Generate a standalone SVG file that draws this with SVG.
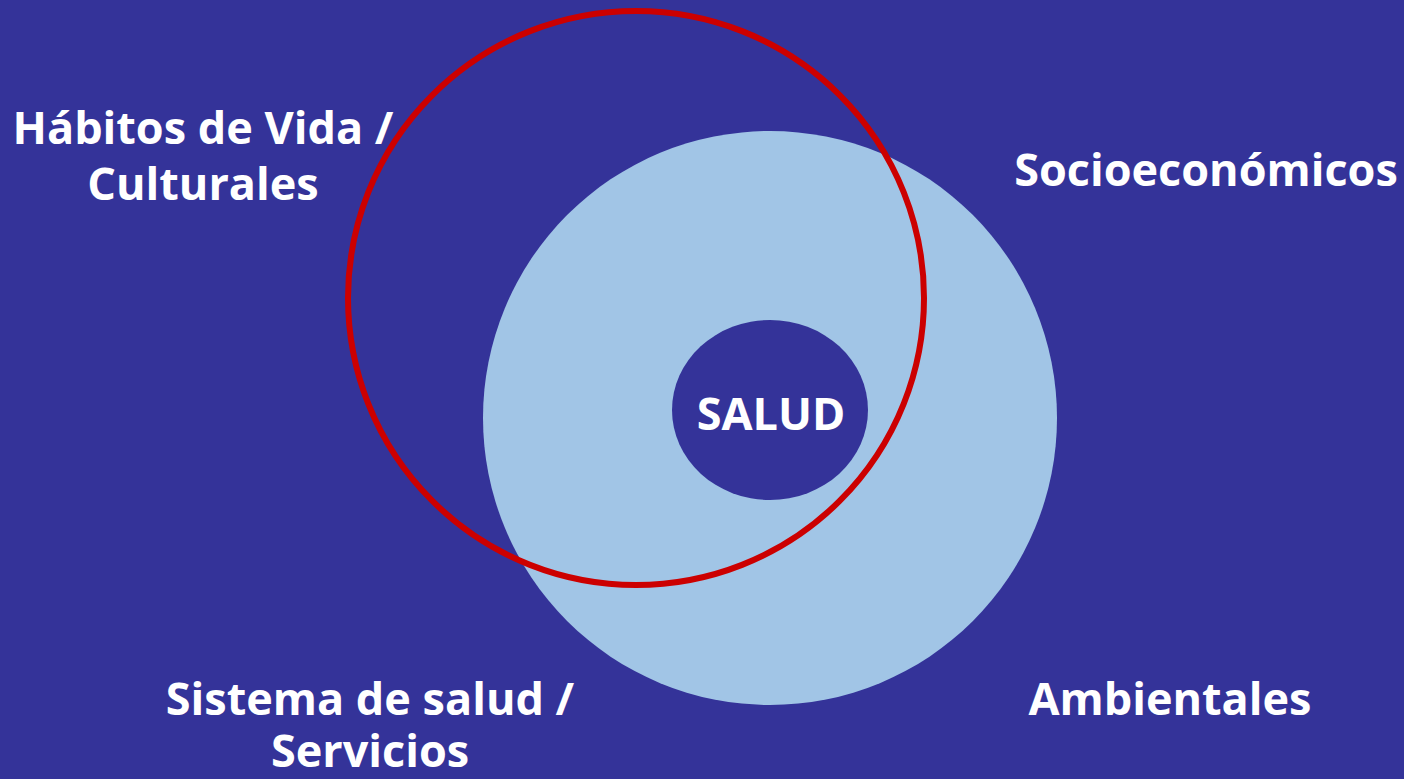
<svg xmlns="http://www.w3.org/2000/svg" width="1404" height="779" viewBox="0 0 1404 779">
<style>
.lbl{font-family:"Open Sans","DejaVu Sans",sans-serif;font-weight:bold;font-size:45px;fill:#ffffff;text-anchor:middle}
</style>
<rect x="0" y="0" width="1404" height="779" fill="#343399"/>
<g id="socioeconomicos">
<circle cx="770" cy="418" r="287" fill="#a1c5e6"/>
</g>
<g id="salud">
<ellipse cx="770" cy="410" rx="98" ry="90" fill="#343399"/>
<text class="lbl" x="771" y="430">SALUD</text>
</g>
<g id="habitos">
<ellipse cx="636" cy="298" rx="288" ry="287" fill="none" stroke="#cc0000" stroke-width="6"/>
</g>
<g id="labels">
<text class="lbl" x="203" y="144">Hábitos de Vida /</text>
<text class="lbl" x="203" y="200">Culturales</text>
<text class="lbl" x="1206" y="186">Socioeconómicos</text>
<text class="lbl" x="370" y="715">Sistema de salud /</text>
<text class="lbl" x="370" y="767">Servicios</text>
<text class="lbl" x="1170" y="715">Ambientales</text>
</g>
</svg>
